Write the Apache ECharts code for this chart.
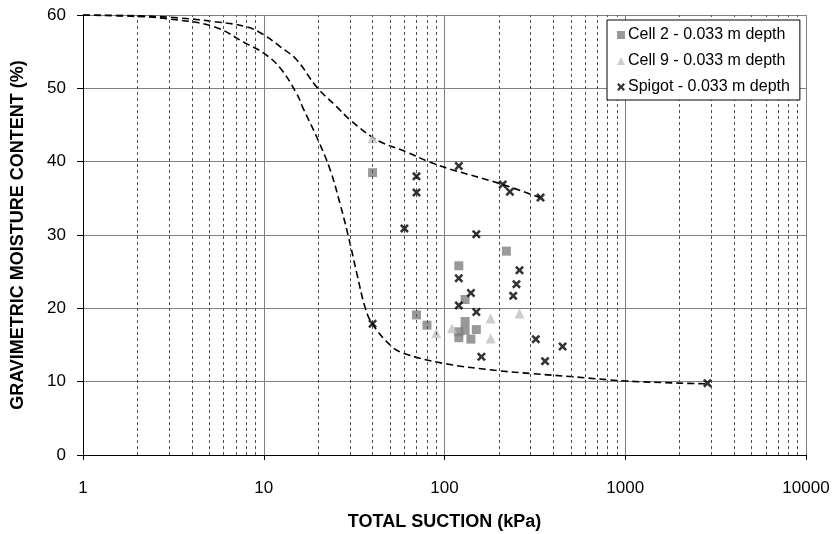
<!DOCTYPE html>
<html>
<head>
<meta charset="utf-8">
<script src="https://cdn.jsdelivr.net/npm/echarts@6/dist/echarts.min.js"></script>
<style>
  html, body { margin: 0; padding: 0; background: #ffffff; }
  #chart { width: 837px; height: 534px; }
</style>
</head>
<body>
<div id="chart"></div>
<script>
// Axis ticks
const suctionTicks = [1, 10, 100, 1000, 10000];
const moistureTicks = [0, 10, 20, 30, 40, 50, 60];

// Cell 2 measurements (total suction kPa, gravimetric moisture %)
const cell2Suction  = [40, 220, 120, 130, 70, 80, 120, 120, 130, 130, 150, 140];
const cell2Moisture = [38.5, 27.8, 25.8, 21.2, 19.1, 17.7, 16.0, 16.8, 17.0, 18.2, 17.1, 15.8];

// Cell 9 measurements
const cell9Suction  = [40, 90, 110, 180, 180, 260];
const cell9Moisture = [43.2, 16.6, 17.3, 18.6, 15.9, 19.3];

// Spigot measurements
const spigotSuction  = [120, 70, 70, 210, 230, 340, 60, 150, 260, 250, 120, 240, 140, 120, 150, 40, 160, 320, 360, 450, 2850];
const spigotMoisture = [39.4, 38.0, 35.8, 36.9, 35.9, 35.1, 30.9, 30.1, 25.2, 23.3, 24.1, 21.7, 22.1, 20.4, 19.5, 17.9, 13.4, 15.8, 12.8, 14.8, 9.8];

// Upper (drying) characteristic curve
const upperSuction  = [1, 2, 3.4, 5.3, 8, 10, 12.3, 15.2, 19.6, 25.3, 30, 40, 46, 62, 80, 107, 203, 337];
const upperMoisture = [60, 59.9, 59.6, 59.1, 58.4, 57.3, 55.7, 53.9, 50.2, 47.5, 45.7, 43.3, 42.5, 41.3, 40.1, 39.0, 37.0, 35.1];

// Lower characteristic curve
const lowerSuction  = [1, 2, 2.9, 5.3, 8, 10, 12.3, 15.2, 16.5, 19.6, 23.3, 26.4, 29.4, 32.7, 36.3, 39.6, 50, 59, 98.5, 199, 304, 495, 1000, 2009, 2880];
const lowerMoisture = [60, 59.8, 59.5, 58.4, 56.1, 54.8, 52.8, 49.3, 47.3, 43.4, 38.9, 34.3, 29.8, 24.8, 20.2, 18.0, 15.0, 13.9, 12.5, 11.5, 11.1, 10.7, 10.1, 9.8, 9.7];

const seriesNames = ['Cell 2 - 0.033 m depth', 'Cell 9 - 0.033 m depth', 'Spigot - 0.033 m depth'];

const crossSymbol = 'path://M2,0 L5,3 L8,0 L10,2 L7,5 L10,8 L8,10 L5,7 L2,10 L0,8 L3,5 L0,2 Z';

function pairs(xs, ys) { return xs.map((x, i) => [x, ys[i]]); }

// Minor log gridlines at 2..9 within each decade
const minorLines = [];
for (let d = 0; d < suctionTicks.length - 1; d++) {
  for (let m = 2; m <= 9; m++) minorLines.push({ xAxis: m * suctionTicks[d] });
}

const fontFamily = '"Liberation Sans", Arial, sans-serif';

const chart = echarts.init(document.getElementById('chart'), null, { renderer: 'canvas' });

chart.setOption({
  animation: false,
  backgroundColor: '#ffffff',
  textStyle: { fontFamily: fontFamily },
  grid: { left: 83, right: 31, top: 15, bottom: 79, containLabel: false, outerBoundsMode: 'none' },
  legend: {
    data: [
      { name: seriesNames[0], icon: 'rect' },
      { name: seriesNames[1], icon: 'triangle' },
      { name: seriesNames[2], icon: crossSymbol }
    ],
    z: 20,
    zlevel: 1,
    orient: 'vertical',
    left: 607,
    top: 20,
    itemWidth: 8,
    itemHeight: 8,
    itemGap: 10,
    padding: [7, 10, 5, 10],
    borderColor: '#000000',
    borderWidth: 1,
    backgroundColor: '#ffffff',
    textStyle: { fontSize: 16, color: '#000000', fontFamily: fontFamily, padding: [0, 0, 0, -2] }
  },
  xAxis: {
    type: 'log',
    logBase: 10,
    min: suctionTicks[0],
    max: suctionTicks[suctionTicks.length - 1],
    name: 'TOTAL SUCTION (kPa)',
    nameLocation: 'middle',
    nameGap: 58,
    nameTextStyle: { fontSize: 18, fontWeight: 'bold', color: '#000000', fontFamily: fontFamily },
    axisLine: { show: true, lineStyle: { color: '#000000', width: 1 } },
    axisTick: { show: true, inside: false, length: 5, lineStyle: { color: '#000000' } },
    axisLabel: {
      fontSize: 17, color: '#000000', margin: 25, fontFamily: fontFamily,
      formatter: v => String(suctionTicks.find(t => Math.abs(t - v) / t < 1e-6) ?? Math.round(v))
    },
    splitLine: { show: true, lineStyle: { color: '#808080', width: 1, type: 'solid' } },
    minorTick: { show: false },
    minorSplitLine: { show: false }
  },
  yAxis: {
    type: 'value',
    min: moistureTicks[0],
    max: moistureTicks[moistureTicks.length - 1],
    interval: 10,
    name: 'GRAVIMETRIC MOISTURE CONTENT (%)',
    nameLocation: 'middle',
    nameRotate: 90,
    nameGap: 56,
    nameTextStyle: { fontSize: 18, fontWeight: 'bold', color: '#000000', fontFamily: fontFamily },
    axisLine: { show: true, lineStyle: { color: '#000000', width: 1 } },
    axisTick: { show: true, inside: false, length: 6, lineStyle: { color: '#000000' } },
    axisLabel: { fontSize: 17, color: '#000000', margin: 17, fontFamily: fontFamily },
    splitLine: { show: true, lineStyle: { color: '#808080', width: 1 } }
  },
  series: [
    {
      name: 'minor-grid',
      type: 'line',
      data: [],
      z: 1,
      silent: true,
      markLine: {
        silent: true,
        symbol: ['none', 'none'],
        label: { show: false },
        lineStyle: { color: '#505050', width: 1, type: [3, 3] },
        emphasis: { disabled: true },
        data: minorLines
      }
    },
    {
      name: 'upper-curve',
      type: 'line',
      data: pairs(upperSuction, upperMoisture),
      smooth: 0.4,
      showSymbol: false,
      z: 3,
      lineStyle: { color: '#000000', width: 1.6, type: [7, 4] }
    },
    {
      name: 'lower-curve',
      type: 'line',
      data: pairs(lowerSuction, lowerMoisture),
      smooth: 0.4,
      showSymbol: false,
      z: 3,
      lineStyle: { color: '#000000', width: 1.6, type: [7, 4] }
    },
    {
      name: seriesNames[0],
      type: 'scatter',
      data: pairs(cell2Suction, cell2Moisture),
      symbol: 'rect',
      symbolSize: 9,
      z: 4,
      itemStyle: { color: '#808080' }
    },
    {
      name: seriesNames[1],
      type: 'scatter',
      data: pairs(cell9Suction, cell9Moisture),
      symbol: 'triangle',
      symbolSize: 10,
      z: 4,
      itemStyle: { color: '#c0c0c0' }
    },
    {
      name: seriesNames[2],
      type: 'scatter',
      data: pairs(spigotSuction, spigotMoisture),
      symbol: crossSymbol,
      symbolSize: 9,
      z: 5,
      itemStyle: { color: '#000000' }
    }
  ]
});
</script>
</body>
</html>
